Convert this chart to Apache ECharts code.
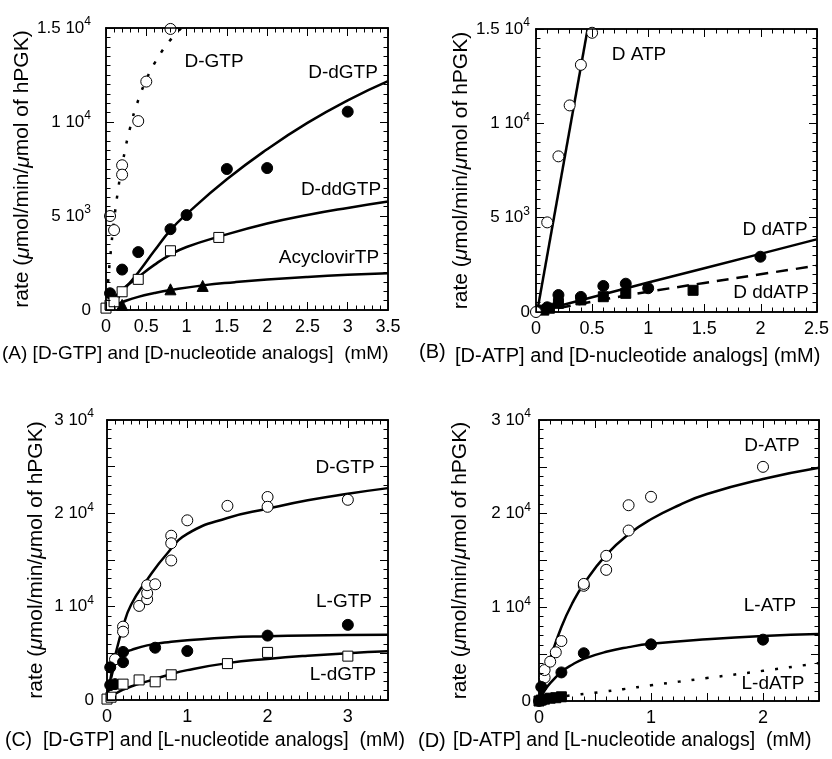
<!DOCTYPE html>
<html>
<head>
<meta charset="utf-8">
<script src="https://cdn.jsdelivr.net/npm/echarts@6/dist/echarts.min.js"></script>
<style>
  html, body { margin: 0; padding: 0; background: #fff; }
  #wrap { position: relative; width: 832px; height: 759px; }
  #main, #ticks { position: absolute; left: 0; top: 0; width: 832px; height: 759px; }
  #ticks { pointer-events: none; }
</style>
</head>
<body>
<div id="wrap">
  <div id="main"></div>
  <div id="ticks"></div>
</div>
<script>
// ---- panel A : D-GTP and D-nucleotide analogs ----
var aGtpPts   = [[0.05,5000],[0.1,4250],[0.2,7700],[0.2,7200],[0.4,10050],[0.5,12150],[0.8,14950]];
var aGtpFit   = [[0,0],[0.02,1170],[0.05,2700],[0.1,4760],[0.15,6390],[0.2,7700],[0.3,9710],[0.4,11160],[0.5,12250],[0.6,13110],[0.7,13800],[0.8,14370],[0.9,14850],[1.0,15260]];
var aDgtpPts  = [[0.05,890],[0.2,2150],[0.4,3080],[0.8,4300],[1,5050],[1.5,7500],[2,7550],[3,10550]];
var aDgtpFit  = [[0.15,650],[0.2,950],[0.4,2000],[0.6,3150],[0.8,4250],[1,5100],[1.5,6950],[2,8550],[2.5,9950],[3,11150],[3.5,12170]];
var aDdgtpPts = [[0,100],[0.05,260],[0.1,440],[0.2,970],[0.4,1630],[0.8,3150],[1.4,3860]];
var aDdgtpFit = [[0.03,300],[0.2,1080],[0.4,1750],[0.6,2400],[0.8,2950],[1.0,3350],[1.4,3900],[2,4600],[2.5,5050],[3,5430],[3.5,5770]];
var aAcyPts   = [[0.2,270],[0.8,1100],[1.2,1280]];
var aAcyFit   = [[0.1,250],[0.2,420],[0.4,700],[0.6,900],[0.8,1060],[1.2,1310],[1.6,1480],[2,1620],[2.5,1760],[3,1870],[3.5,1950]];

// ---- panel B : D-ATP and D-nucleotide analogs ----
var bAtpPts   = [[0,0],[0.1,4750],[0.2,8250],[0.3,10950],[0.4,13100],[0.5,14800]];
var bAtpFit   = [[0.01,0],[0.46,15000]];
var bDatpPts  = [[0.1,250],[0.2,900],[0.4,800],[0.6,1380],[0.8,1500],[1,1260],[2,2930]];
var bDatpFit  = [[0,0],[1,1560],[2,3080],[2.5,3850]];
var bDdatpPts = [[0.07,100],[0.12,200],[0.2,460],[0.4,640],[0.6,810],[0.8,990],[1.4,1150]];
var bDdatpFit = [[0.03,0],[0.5,550],[1,1070],[1.5,1540],[2,2000],[2.5,2450]];

// ---- panel C : D-GTP and L-nucleotide analogs ----
var cDgtpPts  = [[0.1,4360],[0.2,7860],[0.2,7320],[0.4,10080],[0.5,10800],[0.5,11450],[0.5,12300],[0.6,12400],[0.8,17600],[0.8,16800],[0.8,14950],[1,19250],[1.5,20800],[2,21750],[2,20700],[3,21450]];
var cDgtpFit  = [[0,0],[0.05,2600],[0.1,4700],[0.2,7850],[0.3,10200],[0.5,12900],[0.75,15700],[1,17800],[1.5,19500],[2,20500],[2.5,21400],[3,22100],[3.5,22700]];
var cLgtpPts  = [[0.04,3500],[0.04,1600],[0.1,1700],[0.2,5150],[0.2,4050],[0.6,5600],[1,5250],[2,6900],[3,8050]];
var cLgtpFit  = [[0.05,2300],[0.1,3800],[0.15,4600],[0.2,5000],[0.3,5350],[0.5,5850],[0.8,6250],[1,6400],[1.5,6700],[2,6830],[2.5,6920],[3,6970],[3.5,7000]];
var cLdgtpPts = [[0,100],[0.05,300],[0.2,1700],[0.4,2150],[0.6,1950],[0.8,2700],[1.5,3900],[2,5100],[3,4700]];
var cLdgtpFit = [[0.05,350],[0.1,650],[0.2,1100],[0.3,1450],[0.5,2000],[0.75,2650],[1,3200],[1.5,3950],[2,4400],[2.5,4750],[3,5020],[3.5,5210]];

// ---- panel D : D-ATP and L-nucleotide analogs ----
var dDatpPts  = [[0,0],[0.05,2500],[0.05,3300],[0.1,4200],[0.15,5200],[0.2,6400],[0.4,12300],[0.4,12500],[0.6,14000],[0.6,15500],[0.8,18200],[0.8,20900],[1,21800],[2,25000]];
var dDatpFit  = [[0,0],[0.05,2400],[0.1,4500],[0.2,7900],[0.3,10500],[0.4,12500],[0.6,15600],[0.8,17800],[1,19400],[1.25,20900],[1.5,22100],[2,23700],[2.5,24900]];
var dLatpPts  = [[0.02,1500],[0.2,3050],[0.4,5100],[1,6050],[2,6550]];
var dLatpFit  = [[0,0],[0.05,1100],[0.1,1900],[0.2,3100],[0.3,3900],[0.4,4500],[0.6,5250],[0.8,5750],[1,6100],[1.5,6600],[2,6950],[2.5,7150]];
var dLdatpPts = [[0,0],[0.02,100],[0.05,200],[0.1,300],[0.15,350],[0.2,450]];
var dLdatpFit = [[0,50],[0.2,450],[0.3,620],[0.45,820],[0.6,1030],[0.75,1260],[1,1680],[1.5,2450],[2,3220],[2.5,4050]];

// tick labels
var xTickA = [0, 0.5, 1, 1.5, 2, 2.5, 3, 3.5];
var xTickB = [0, 0.5, 1, 1.5, 2, 2.5];
var xTickC = [0, 1, 2, 3];
var xTickD = [0, 1, 2];
var yTickAB = [0, 5000, 10000, 15000];
var yMantAB = ['0', '5', '1', '1.5'];
var yExpAB  = ['', '3', '4', '4'];
var yTickCD = [0, 10000, 20000, 30000];
var yMantCD = ['0', '1', '2', '3'];
var yExpCD  = ['', '4', '4', '4'];

var FONT = '"Liberation Sans", Arial, Helvetica, sans-serif';
var GRIDS = [
  { left: 106, top: 28, width: 282, height: 282 },
  { left: 536, top: 29, width: 281, height: 283 },
  { left: 107, top: 420, width: 281, height: 280 },
  { left: 539, top: 420, width: 280, height: 281 }
];

function findIdx(arr, v) {
  for (var i = 0; i < arr.length; i++) if (Math.abs(arr[i] - v) < 1e-9) return i;
  return -1;
}

function xAx(g, pos, max, ticks) {
  return {
    type: 'value', gridIndex: g, position: pos, min: 0, max: max, interval: 0.5,
    axisLine: { show: true, onZero: false, lineStyle: { color: '#000', width: 1.5 } },
    axisTick: { show: false },
    splitLine: { show: false },
    axisLabel: {
      show: pos === 'bottom', color: '#000', fontSize: 18, fontFamily: FONT,
      formatter: function (v) { return findIdx(ticks, v) >= 0 ? String(v) : ''; }
    }
  };
}

function yAx(g, pos, max, intv, ticks, mant, exp, gap, margin) {
  return {
    type: 'value', gridIndex: g, position: pos, min: 0, max: max, interval: intv,
    name: pos === 'left' ? 'rate ({i|μ}mol/min/{i|μ}mol of hPGK)' : '',
    nameLocation: 'middle', nameRotate: 90, nameGap: gap,
    nameTextStyle: {
      color: '#000', fontSize: 21, fontFamily: FONT,
      rich: { i: { fontStyle: 'italic', fontSize: 21, fontFamily: FONT, color: '#000' } }
    },
    axisLine: { show: true, onZero: false, lineStyle: { color: '#000', width: 1.5 } },
    axisTick: { show: false },
    splitLine: { show: false },
    axisLabel: {
      show: pos === 'left', margin: margin, color: '#000', fontSize: 17, fontFamily: FONT, lineHeight: 24,
      formatter: function (v) {
        var i = findIdx(ticks, v);
        if (i < 0) return '';
        return exp[i] ? mant[i] + ' 10{s|' + exp[i] + '}' : mant[i];
      },
      rich: { s: { fontSize: 12, fontFamily: FONT, color: '#000', verticalAlign: 'top', lineHeight: 12 } }
    }
  };
}

function fit(p, data, dash) {
  return {
    type: 'line', xAxisIndex: 2 * p, yAxisIndex: 2 * p, data: data,
    showSymbol: false, smooth: 0.5, z: 2,
    lineStyle: { color: '#000', width: 2.5, type: dash || 'solid' }
  };
}

function pts(p, data, sym, fill) {
  return {
    type: 'scatter', xAxisIndex: 2 * p, yAxisIndex: 2 * p, data: data,
    symbol: sym, symbolSize: sym === 'rect' ? 10 : 11, z: 3,
    itemStyle: { color: fill, borderColor: '#000', borderWidth: 1, opacity: 1 }
  };
}

function lbl(s, x, y, size, align) {
  return {
    text: s, left: x, top: y, padding: 0, textAlign: align || 'center', textVerticalAlign: 'middle',
    textStyle: { color: '#000', fontSize: size || 19, fontWeight: 'normal', fontFamily: FONT }
  };
}

var DOT = [3, 11];
var DASH = [12, 8];

var chart = echarts.init(document.getElementById('main'));
chart.setOption({
  animation: false,
  title: [
    lbl('D-GTP', 214, 62), lbl('D-dGTP', 343, 73), lbl('D-ddGTP', 341, 190), lbl('AcyclovirTP', 329, 258),
    lbl('D ATP', 639, 55), lbl('D dATP', 775, 230), lbl('D ddATP', 771, 293),
    lbl('D-GTP', 345, 468), lbl('L-GTP', 344, 602), lbl('L-dGTP', 343, 675),
    lbl('D-ATP', 772, 446), lbl('L-ATP', 770, 606), lbl('L-dATP', 773, 684),
    lbl('(A) [D-GTP] and [D-nucleotide analogs]  (mM)', 2, 354, 19, 'left'),
    lbl('(B)', 419, 352, 20, 'left'),
    lbl('[D-ATP] and [D-nucleotide analogs] (mM)', 455, 356, 20, 'left'),
    lbl('(C)  [D-GTP] and [L-nucleotide analogs]  (mM)', 5, 741, 19.5, 'left'),
    lbl('(D)', 418, 741, 20, 'left'),
    lbl('[D-ATP] and [L-nucleotide analogs]  (mM)', 453, 741, 19.5, 'left')
  ],
  grid: GRIDS,
  xAxis: [
    xAx(0, 'bottom', 3.5, xTickA), xAx(0, 'top', 3.5, xTickA),
    xAx(1, 'bottom', 2.5, xTickB), xAx(1, 'top', 2.5, xTickB),
    xAx(2, 'bottom', 3.5, xTickC), xAx(2, 'top', 3.5, xTickC),
    xAx(3, 'bottom', 2.5, xTickD), xAx(3, 'top', 2.5, xTickD)
  ],
  yAxis: [
    yAx(0, 'left', 15000, 5000, yTickAB, yMantAB, yExpAB, 64, 15), yAx(0, 'right', 15000, 5000, yTickAB, yMantAB, yExpAB, 0, 8),
    yAx(1, 'left', 15000, 5000, yTickAB, yMantAB, yExpAB, 64, 6), yAx(1, 'right', 15000, 5000, yTickAB, yMantAB, yExpAB, 0, 8),
    yAx(2, 'left', 30000, 10000, yTickCD, yMantCD, yExpCD, 60, 13), yAx(2, 'right', 30000, 10000, yTickCD, yMantCD, yExpCD, 0, 8),
    yAx(3, 'left', 30000, 10000, yTickCD, yMantCD, yExpCD, 68, 8), yAx(3, 'right', 30000, 10000, yTickCD, yMantCD, yExpCD, 0, 8)
  ],
  series: [
    fit(0, aGtpFit, DOT), fit(0, aDgtpFit), fit(0, aDdgtpFit), fit(0, aAcyFit),
    pts(0, aGtpPts, 'circle', '#fff'), pts(0, aDgtpPts, 'circle', '#000'),
    pts(0, aAcyPts, 'triangle', '#000'), pts(0, aDdgtpPts, 'rect', '#fff'),

    fit(1, bAtpFit), fit(1, bDatpFit), fit(1, bDdatpFit, DASH),
    pts(1, bDatpPts, 'circle', '#000'), pts(1, bDdatpPts, 'rect', '#000'), pts(1, bAtpPts, 'circle', '#fff'),

    fit(2, cDgtpFit), fit(2, cLgtpFit), fit(2, cLdgtpFit),
    pts(2, cDgtpPts, 'circle', '#fff'), pts(2, cLgtpPts, 'circle', '#000'), pts(2, cLdgtpPts, 'rect', '#fff'),

    fit(3, dDatpFit), fit(3, dLatpFit), fit(3, dLdatpFit, DOT),
    pts(3, dDatpPts, 'circle', '#fff'), pts(3, dLatpPts, 'circle', '#000'), pts(3, dLdatpPts, 'rect', '#000')
  ]
});

// second, transparent instance on top: only the inward ticks of every frame side
function tAx(g, pos, max, intv, minorN) {
  return {
    type: 'value', gridIndex: g, position: pos, min: 0, max: max, interval: intv,
    axisLine: { show: true, onZero: false, lineStyle: { color: '#000', width: 1.5 } },
    axisTick: { show: true, inside: true, length: 8, lineStyle: { color: '#000', width: 1 } },
    minorTick: { show: true, splitNumber: minorN, length: 4.5, lineStyle: { color: '#000', width: 1 } },
    splitLine: { show: false },
    axisLabel: { show: false }
  };
}
var tickChart = echarts.init(document.getElementById('ticks'));
var txs = [], tys = [];
var xMaxes = [3.5, 2.5, 3.5, 2.5];
var yMaxes = [15000, 15000, 30000, 30000];
var yMinor = [10, 10, 5, 5];
for (var g = 0; g < 4; g++) {
  txs.push(tAx(g, 'bottom', xMaxes[g], 0.5, 5), tAx(g, 'top', xMaxes[g], 0.5, 5));
  tys.push(tAx(g, 'left', yMaxes[g], 5000, yMinor[g]), tAx(g, 'right', yMaxes[g], 5000, yMinor[g]));
}
tickChart.setOption({
  animation: false,
  backgroundColor: 'transparent',
  grid: GRIDS,
  xAxis: txs,
  yAxis: tys,
  series: [0, 1, 2, 3].map(function (i) {
    return { type: 'line', xAxisIndex: 2 * i, yAxisIndex: 2 * i, data: [], silent: true };
  })
});
</script>
</body>
</html>
